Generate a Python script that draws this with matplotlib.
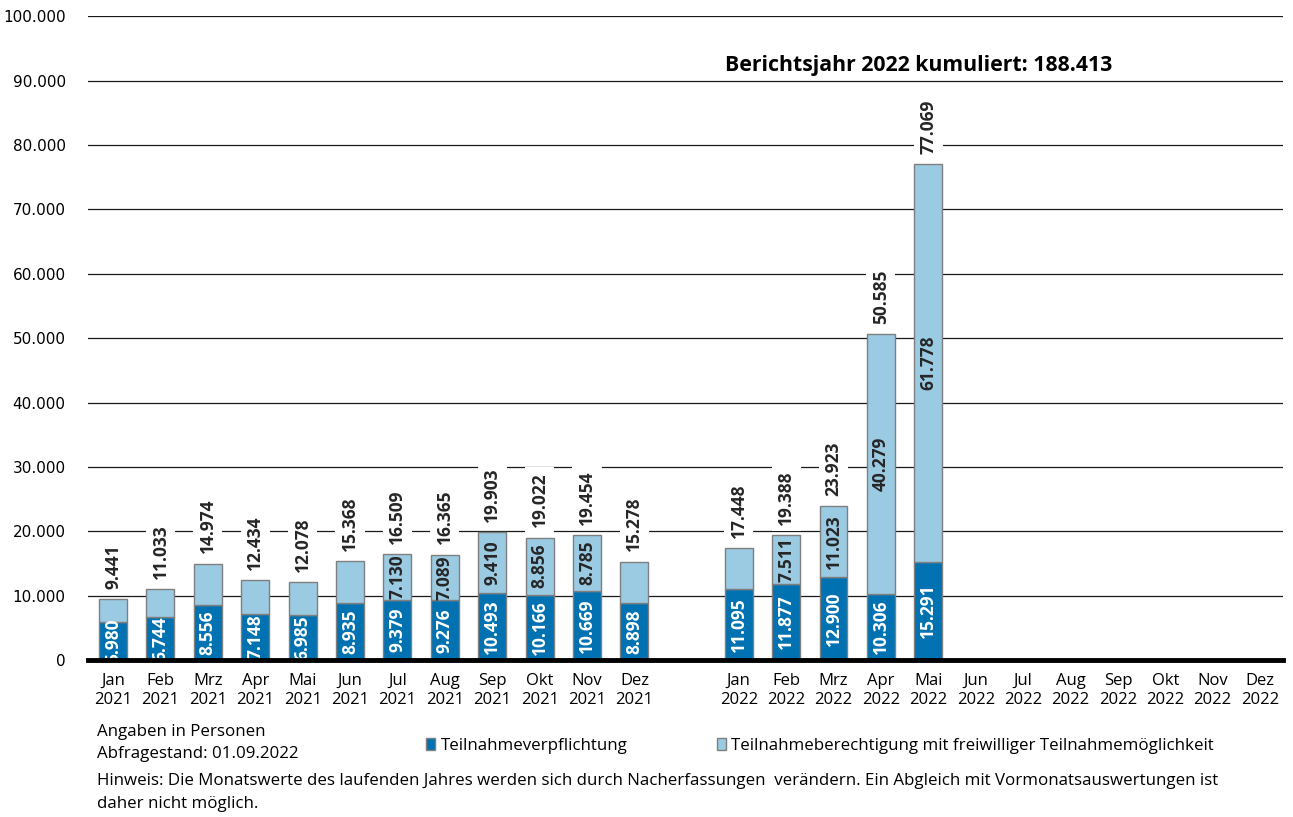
import matplotlib
matplotlib.use("Agg")
import matplotlib.pyplot as plt
from matplotlib.patches import Patch
import numpy as np

plt.rcParams['font.family'] = ['Open Sans', 'DejaVu Sans']

MONTHS = ["Jan", "Feb", "Mrz", "Apr", "Mai", "Jun", "Jul", "Aug", "Sep", "Okt", "Nov", "Dez"]
YEARS = ["2021", "2022"]

# Teilnahmeverpflichtung
pflicht_2021 = [5980, 6744, 8556, 7148, 6985, 8935, 9379, 9276, 10493, 10166, 10669, 8898]
pflicht_2022 = [11095, 11877, 12900, 10306, 15291]
# Gesamtwerte
gesamt_2021 = [9441, 11033, 14974, 12434, 12078, 15368, 16509, 16365, 19903, 19022, 19454, 15278]
gesamt_2022 = [17448, 19388, 23923, 50585, 77069]
# welche hellblauen Segmente beschriftet sind
freiw_label_2021 = [False] * 6 + [True] * 5 + [False]
freiw_label_2022 = [False, True, True, True, True]

TITLE = "Berichtsjahr 2022 kumuliert: 188.413"

DARK = "#0072b1"
LIGHT = "#9bcae3"
EDGE = "#7f7f7f"
GAP = 2.2
FS = 12.2


def fmt(v):
    return f"{v:,.0f}".replace(",", ".")


def main():
    fig = plt.figure(figsize=(12.93, 8.17), dpi=100)
    ax = fig.add_axes([0.068, 0.192, 0.9245, 0.788])

    x21 = np.arange(12)
    x22 = 11 + GAP + np.arange(12)

    series = [
        (x21, pflicht_2021, gesamt_2021, freiw_label_2021),
        (x22[:len(pflicht_2022)], pflicht_2022, gesamt_2022, freiw_label_2022),
    ]
    for xs, pfl, ges, lab in series:
        pfl = np.array(pfl)
        ges = np.array(ges)
        frw = ges - pfl
        ax.bar(xs, pfl, 0.59, color=DARK, edgecolor=EDGE, linewidth=1, zorder=3)
        ax.bar(xs, frw, 0.59, bottom=pfl, color=LIGHT, edgecolor=EDGE, linewidth=1, zorder=3)
        for x, p, f, g, show in zip(xs, pfl, frw, ges, lab):
            ax.text(x, p / 2, fmt(p), rotation=90, ha="center", va="center",
                    color="white", fontsize=12.5, fontweight="bold", zorder=5)
            if show:
                ax.text(x, p + f / 2, fmt(f), rotation=90, ha="center", va="center",
                        color="#262626", fontsize=12.5, fontweight="bold", zorder=5)
            ax.text(x, g + 1600, fmt(g), rotation=90, ha="center", va="bottom",
                    color="#262626", fontsize=12.5, fontweight="bold", zorder=5,
                    bbox=dict(facecolor="white", edgecolor="none", pad=4))

    ticks = list(x21) + list(x22)
    labels = [f"{m}\n{y}" for y in YEARS for m in MONTHS]
    ax.set_xticks(ticks)
    ax.set_xticklabels(labels, fontsize=12, linespacing=1.3)
    ax.set_xlim(-0.53, x22[-1] + 0.49)

    ax.set_ylim(0, 100000)
    yt = np.arange(0, 100001, 10000)
    ax.set_yticks(yt)
    ax.set_yticklabels([fmt(v) for v in yt], fontsize=11, family="DejaVu Sans")
    ax.tick_params(length=0, pad=16)
    ax.tick_params(axis="x", pad=9)
    ax.grid(axis="y", color="#1a1a1a", linewidth=0.9, zorder=0)
    ax.set_axisbelow(True)
    for s in ["top", "right", "left"]:
        ax.spines[s].set_visible(False)
    ax.spines["bottom"].set_linewidth(3.5)
    ax.spines["bottom"].set_zorder(6)

    ax.text(17.0, 92300, TITLE, ha="center", va="center", fontsize=15.3,
            fontweight="bold", color="black", zorder=5,
            bbox=dict(facecolor="white", edgecolor="none", pad=2))

    fig.text(97 / 1293, 1 - 732 / 817, "Angaben in Personen", fontsize=FS, va="center")
    fig.text(97 / 1293, 1 - 754 / 817, "Abfragestand: 01.09.2022", fontsize=FS, va="center")
    fig.text(97 / 1293, 1 - 781 / 817,
             "Hinweis: Die Monatswerte des laufenden Jahres werden sich durch Nacherfassungen  "
             "verändern. Ein Abgleich mit Vormonatsauswertungen ist", fontsize=FS, va="center")
    fig.text(97 / 1293, 1 - 804 / 817, "daher nicht möglich.", fontsize=FS, va="center")

    handles = [Patch(facecolor=DARK, edgecolor=EDGE),
               Patch(facecolor=LIGHT, edgecolor=EDGE)]
    fig.legend(handles, ["Teilnahmeverpflichtung",
                         "Teilnahmeberechtigung mit freiwilliger Teilnahmemöglichkeit"],
               loc="center left", bbox_to_anchor=(426 / 1293, 1 - 746 / 817),
               ncol=2, frameon=False, fontsize=FS, handlelength=0.55, handleheight=0.75,
               handletextpad=0.3, columnspacing=5.3, borderaxespad=0, borderpad=0)

    fig.savefig("out.png", dpi=100)


if __name__ == '__main__':
    main()
